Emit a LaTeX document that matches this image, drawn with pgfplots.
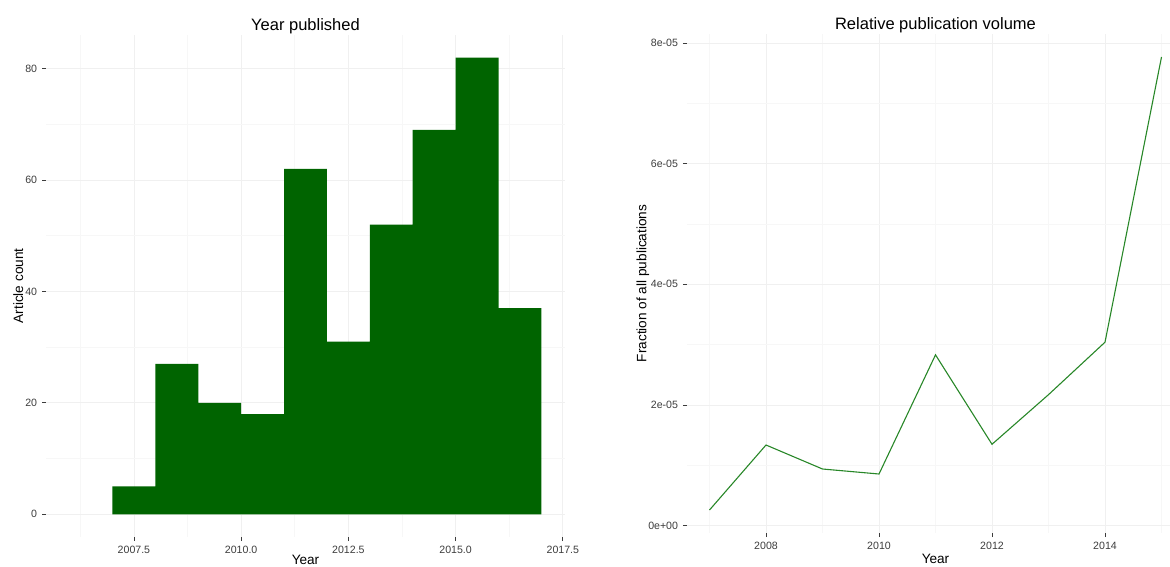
\documentclass[border=0pt]{standalone}
\usepackage{fontspec}
\setmainfont{Liberation Sans}
\usepackage{pgfplots}
\pgfplotsset{compat=1.18}

\definecolor{barfill}{RGB}{0,100,0}
\definecolor{linegreen}{RGB}{40,135,40}
\definecolor{gridmajor}{RGB}{240,240,240}
\definecolor{gridminor}{RGB}{247,247,247}
\definecolor{axtext}{RGB}{60,60,60}

\pgfplotsset{
  ggpanel/.style={
    scale only axis,
    anchor=south west,
    axis line style={draw=none},
    tick align=outside,
    xtick pos=lower, ytick pos=left,
    major tick length=4pt,
    minor tick length=0pt,
    tick style={axtext, line width=0.8pt},
    grid=both,
    major grid style={gridmajor, line width=0.8pt},
    minor grid style={gridminor, line width=0.6pt},
    /pgf/number format/assume math mode=true,
    ticklabel style={font=\fontsize{10.6}{12}\selectfont, text=axtext, inner sep=0pt},
    xticklabel style={anchor=north, yshift=-5pt},
    yticklabel style={anchor=east, xshift=-4.7pt},
    % the default title style already lifts the title by 6pt
    title style={font=\fontsize{16.5}{19}\selectfont, anchor=base, at={(0.5,1)}, yshift=-2pt},
    label style={font=\fontsize{13.6}{16}\selectfont},
    scaled ticks=false,
  }
}

\begin{document}
\begin{tikzpicture}
\useasboundingbox (0,0) rectangle (1170pt,566pt);
\clip (0,0) rectangle (1170pt,566pt);

% Histogram of articles per publication year (bins of one year)
\begin{axis}[ggpanel,
  at={(46pt,28.9pt)}, width=519pt, height=502.4pt,
  xmin=2005.45, xmax=2017.55, ymin=-4.1, ymax=86.1,
  xtick={2007.5,2010,2012.5,2015,2017.5},
  xticklabels={2007.5,2010.0,2012.5,2015.0,2017.5},
  minor xtick={2006.25,2008.75,2011.25,2013.75,2016.25},
  ytick={0,20,40,60,80}, yticklabels={0,20,40,60,80},
  minor ytick={10,30,50,70},
  title={Year published},
  xlabel={Year}, ylabel={Article count},
  xlabel style={at={(axis description cs:0.5,-0.0545)}, anchor=base},
  ylabel style={at={(axis description cs:-0.0443,0.5)}, anchor=base},
]
\addplot[const plot, fill=barfill, draw=none] coordinates {
  (2007,0) (2007,5) (2008,27) (2009,20) (2010,18) (2011,62)
  (2012,31) (2013,52) (2014,69) (2015,82) (2016,37) (2017,37) (2017,0)
} -- cycle;
\end{axis}

% Share of all publications per year
\begin{axis}[ggpanel,
  at={(686.9pt,32.9pt)}, width=497.2pt, height=499.4pt,
  xmin=2006.6, xmax=2015.4, ymin=-0.126e-5, ymax=8.156e-5,
  xtick={2008,2010,2012,2014},
  xticklabels={2008,2010,2012,2014},
  minor xtick={2007,2009,2011,2013,2015},
  ytick={0,2e-5,4e-5,6e-5,8e-5},
  yticklabels={0e+00,2e-05,4e-05,6e-05,8e-05},
  minor ytick={1e-5,3e-5,5e-5,7e-5},
  title={Relative publication volume},
  title style={yshift=-0.3pt},
  xlabel={Year}, ylabel={Fraction of all publications},
  xlabel style={at={(axis description cs:0.5,-0.0601)}, anchor=base},
  ylabel style={at={(axis description cs:-0.0815,0.5)}, anchor=base},
]
\addplot[linegreen, line width=1.1pt] coordinates {
  (2007,0.257e-5) (2008,1.335e-5) (2009,0.937e-5) (2010,0.854e-5)
  (2011,2.83e-5) (2012,1.347e-5) (2013,2.17e-5) (2014,3.04e-5)
  (2015,7.77e-5)
};
\end{axis}
\end{tikzpicture}
\end{document}
